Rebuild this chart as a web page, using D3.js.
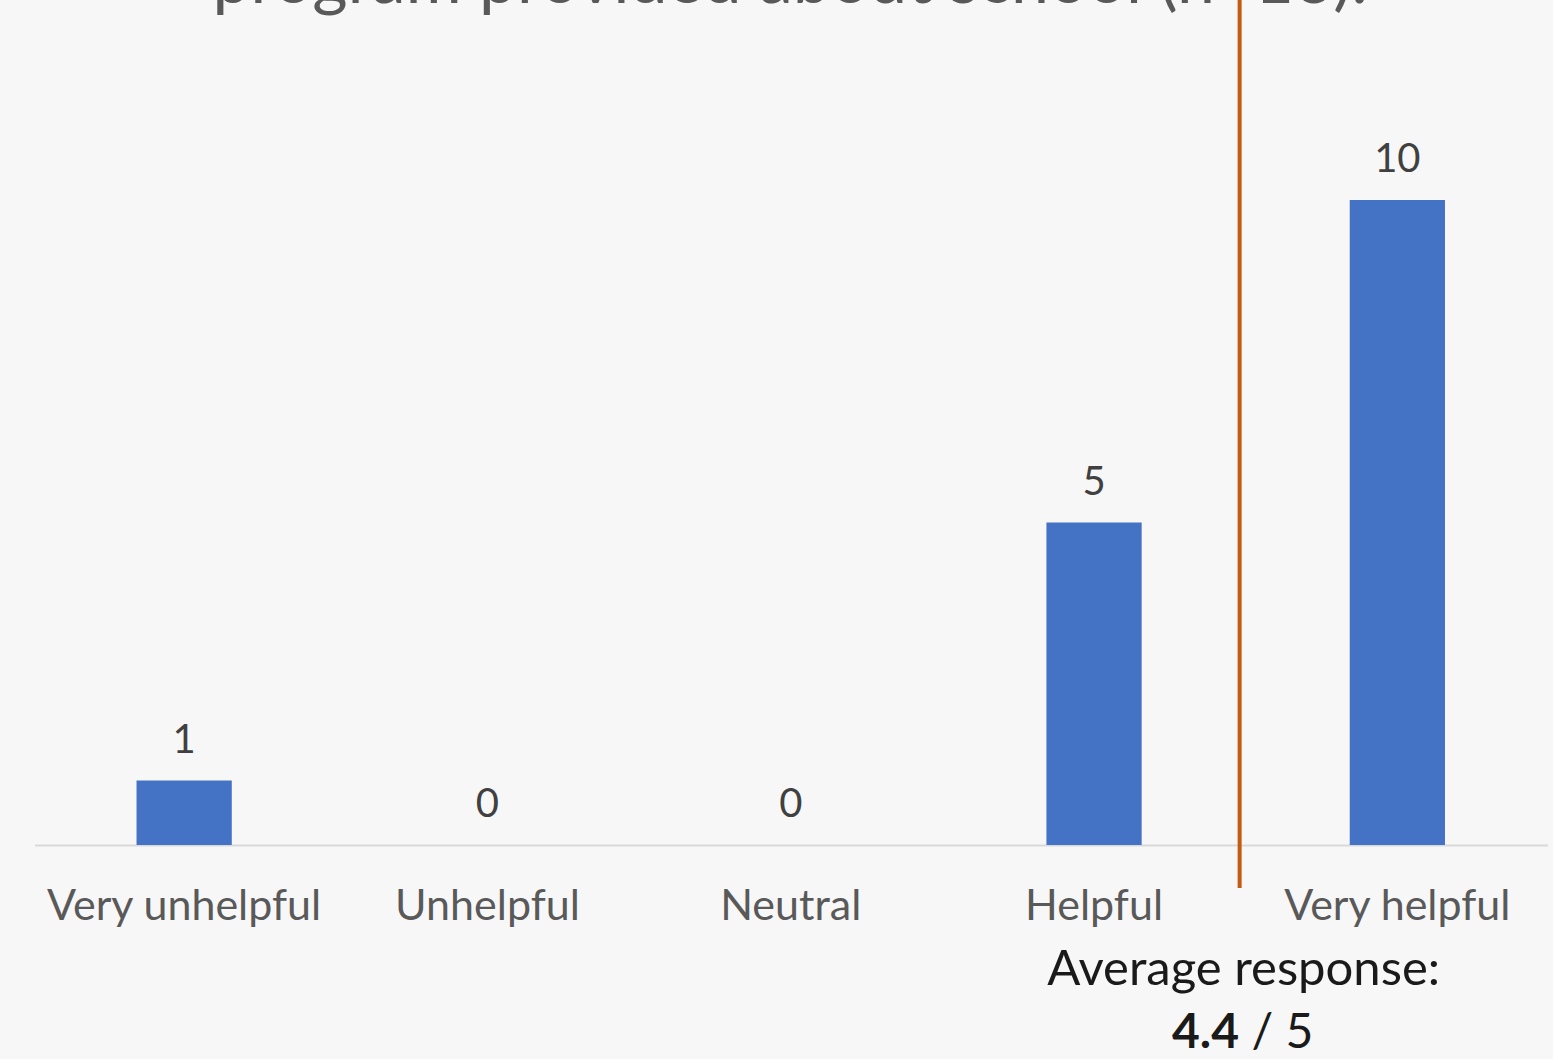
<!DOCTYPE html>
<html>
<head>
<meta charset="utf-8">
<script src="https://cdn.jsdelivr.net/npm/d3@7"></script>
<style>
  html, body { margin: 0; padding: 0; background: #F7F7F7; }
  svg { display: block; }
  text { font-family: Lato, "Open Sans", sans-serif; }
</style>
</head>
<body>
<svg id="chart" width="1553" height="1059"></svg>
<script>
// ---- data ----
const categories = ["Very unhelpful", "Unhelpful", "Neutral", "Helpful", "Very helpful"];
const counts = [1, 0, 0, 5, 10];
const titleLines = ["program provided about school (n=16)."];
const averageValue = 4.4;
const averageMax = 5;
const averageLinePos = 4.48; // position of marker line on 1..5 scale as drawn
const yDomain = [0, 10];

// ---- layout ----
const W = 1553, H = 1059;
const plot = { left: 32.5, right: 1549, top: 200, bottom: 845 };

const svg = d3.select("#chart");
svg.append("rect").attr("width", W).attr("height", H).attr("fill", "#F7F7F7");

const x = d3.scaleBand().domain(categories).range([plot.left, plot.right]).padding(0);
const barW = x.bandwidth() * 0.314;
const y = d3.scaleLinear().domain(yDomain).range([plot.bottom, plot.top]);

const data = categories.map((c, i) => ({ c, v: counts[i] }));

// title (cut off at top, as in the reference)
svg.append("text")
  .attr("x", 790).attr("y", 3)
  .attr("text-anchor", "middle")
  .attr("fill", "#595959")
  .attr("font-size", 68)
  .text(titleLines[0]);

// axis line
svg.append("line")
  .attr("x1", 35).attr("x2", 1548)
  .attr("y1", y(0) + 0.5).attr("y2", y(0) + 0.5)
  .attr("stroke", "#D9D9D9").attr("stroke-width", 2);

// bars
svg.selectAll("rect.bar").data(data).enter().append("rect")
  .attr("class", "bar")
  .attr("x", d => x(d.c) + x.bandwidth() / 2 - barW / 2)
  .attr("width", barW)
  .attr("y", d => y(d.v))
  .attr("height", d => y(0) - y(d.v))
  .attr("fill", "#4472C4");

// value labels
svg.selectAll("text.val").data(data).enter().append("text")
  .attr("class", "val")
  .attr("x", d => x(d.c) + x.bandwidth() / 2)
  .attr("y", d => y(d.v) - 28)
  .attr("text-anchor", "middle")
  .attr("fill", "#404040")
  .attr("font-size", 40)
  .text(d => d.v);

// category labels via axis
const xAxis = d3.axisBottom(x).tickSize(0).tickPadding(0);
const gx = svg.append("g").attr("transform", `translate(0,${plot.bottom})`).call(xAxis);
gx.select(".domain").remove();
gx.selectAll("text")
  .attr("y", 0)
  .attr("dy", 0)
  .attr("transform", "translate(0,75)")
  .attr("fill", "#595959")
  .attr("font-size", 43)
  .attr("font-family", "Lato, 'Open Sans', sans-serif");

// average marker line
const posScale = d3.scaleLinear().domain([1, categories.length])
  .range([x(categories[0]) + x.bandwidth() / 2, x(categories[categories.length - 1]) + x.bandwidth() / 2]);
const ax = posScale(averageLinePos);
svg.append("line")
  .attr("x1", ax).attr("x2", ax)
  .attr("y1", 0).attr("y2", 888)
  .attr("stroke", "#C55A11").attr("stroke-width", 4);

// average annotation
svg.append("text")
  .attr("x", ax + 4).attr("y", 985)
  .attr("text-anchor", "middle")
  .attr("fill", "#1A1A1A")
  .attr("font-size", 49)
  .text("Average response:");
const t2 = svg.append("text")
  .attr("x", ax + 3).attr("y", 1048)
  .attr("text-anchor", "middle")
  .attr("fill", "#1A1A1A")
  .attr("font-size", 48);
t2.append("tspan").attr("font-weight", "bold").text(d3.format(".1f")(averageValue));
t2.append("tspan").text(" / " + averageMax);
</script>
</body>
</html>
